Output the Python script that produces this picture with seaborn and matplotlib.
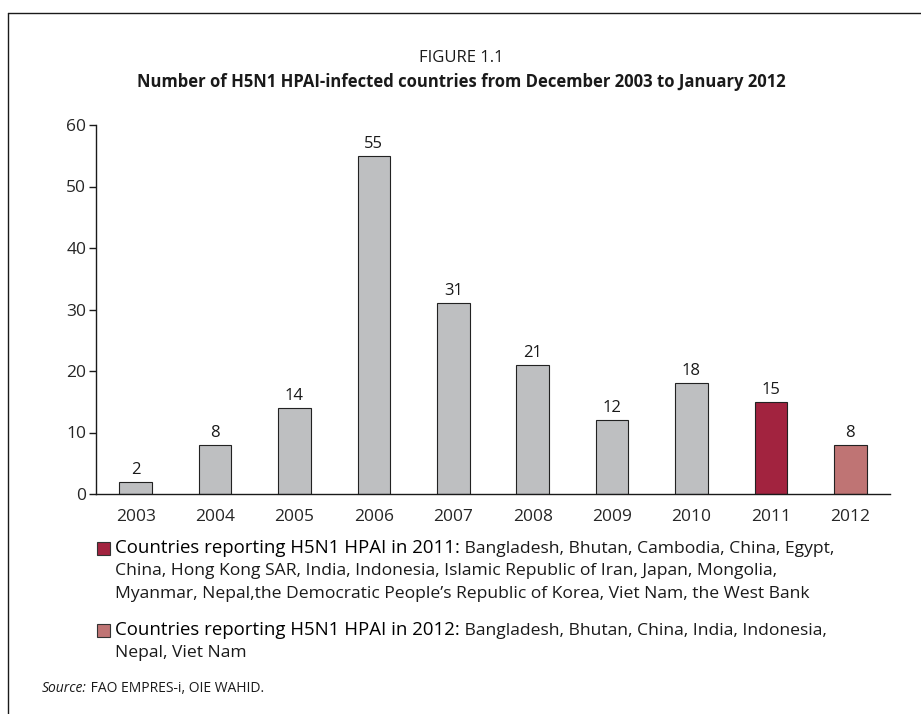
import matplotlib
matplotlib.use("Agg")
import matplotlib.pyplot as plt
import seaborn as sns
import pandas as pd
from matplotlib.patches import Rectangle
from matplotlib.lines import Line2D

# Data
years = ["2003", "2004", "2005", "2006", "2007", "2008", "2009", "2010", "2011", "2012"]
countries = [2, 8, 14, 55, 31, 21, 12, 18, 15, 8]
bar_colors = ["#BEBFC1"] * 8 + ["#A2233F", "#BF7474"]

legend_colors = ["#A2233F", "#BF7474"]
legend_heads = ["Countries reporting H5N1 HPAI in 2011:", "Countries reporting H5N1 HPAI in 2012:"]
legend_lines = [
    [" Bangladesh, Bhutan, Cambodia, China, Egypt,",
     "China, Hong Kong SAR, India, Indonesia, Islamic Republic of Iran, Japan, Mongolia,",
     "Myanmar, Nepal,the Democratic People\u2019s Republic of Korea, Viet Nam, the West Bank"],
    [" Bangladesh, Bhutan, China, India, Indonesia,",
     "Nepal, Viet Nam"],
]

df = pd.DataFrame({"year": years, "count": countries})

sns.set_style("white")
plt.rcParams["font.family"] = ["Open Sans", "DejaVu Sans"]
plt.rcParams["text.color"] = "#1a1a1a"

W, H = 921, 714
fig = plt.figure(figsize=(W / 100, H / 100), dpi=100)
ax = fig.add_axes([96 / W, 1 - 494 / H, (890 - 96) / W, (494 - 125) / H])

sns.barplot(data=df, x="year", y="count", hue="year", palette=bar_colors,
            saturation=1, width=0.41, edgecolor="#222222", linewidth=0.8,
            legend=False, ax=ax)

for c in ax.containers:
    ax.bar_label(c, padding=3, fontsize=12, color="#1a1a1a")

ax.set_ylim(0, 60)
ax.set_xlim(-0.5, 9.5)
ax.set_yticks([0, 10, 20, 30, 40, 50, 60])
ax.set_xlabel("")
ax.set_ylabel("")
ax.set_xticks([i + 0.5 for i in range(-1, 10)], minor=True)
ax.tick_params(axis="x", which="major", length=0, pad=11, labelsize=12.5)
ax.tick_params(axis="x", which="minor", length=5, width=1, direction="out", color="#1a1a1a")
ax.tick_params(axis="y", length=5, width=1, direction="out", pad=2, labelsize=12.5,
               color="#1a1a1a", left=True)
sns.despine(ax=ax)
for s in ["left", "bottom"]:
    ax.spines[s].set_color("#1a1a1a")
    ax.spines[s].set_linewidth(1.0)

# Titles
fig.text(461 / W, 1 - 58 / H, "FIGURE 1.1", ha="center", va="center", fontsize=12)
fig.text(461 / W, 1 - 82 / H,
         "Number of H5N1 HPAI-infected countries from December 2003 to January 2012",
         ha="center", va="center", fontsize=12, fontweight="bold")

# Frame lines
fig.add_artist(Line2D([8 / W, 1], [1 - 13 / H, 1 - 13 / H], color="#1a1a1a", lw=1.0))
fig.add_artist(Line2D([8 / W, 8 / W], [0, 1 - 13 / H], color="#1a1a1a", lw=1.0))

# Custom legend block
tops = [548, 630]
line_gap = 23
for k in range(2):
    y0 = tops[k]
    fig.add_artist(Rectangle((97 / W, 1 - (y0 + 7) / H), 13 / W, 13 / H,
                             facecolor=legend_colors[k], edgecolor="#333333", lw=0.8))
    head = fig.text(115 / W, 1 - y0 / H, legend_heads[k], ha="left", va="center",
                    fontsize=13.4, color="#000000")
    fig.canvas.draw()
    ax.annotate(legend_lines[k][0], xy=(1, 0), xycoords=head, ha="left", va="bottom",
                fontsize=12.6, annotation_clip=False)
    for j, line in enumerate(legend_lines[k][1:], start=1):
        fig.text(115 / W, 1 - (y0 + j * line_gap) / H, line, ha="left", va="center",
                 fontsize=12.6)

src = fig.text(42 / W, 1 - 689 / H, "Source:", ha="left", va="center", fontsize=10,
               style="italic")
ax.annotate(" FAO EMPRES-i, OIE WAHID.", xy=(1, 0), xycoords=src, ha="left", va="bottom",
            fontsize=10, annotation_clip=False)

fig.savefig("out.png", dpi=100, facecolor="white")
